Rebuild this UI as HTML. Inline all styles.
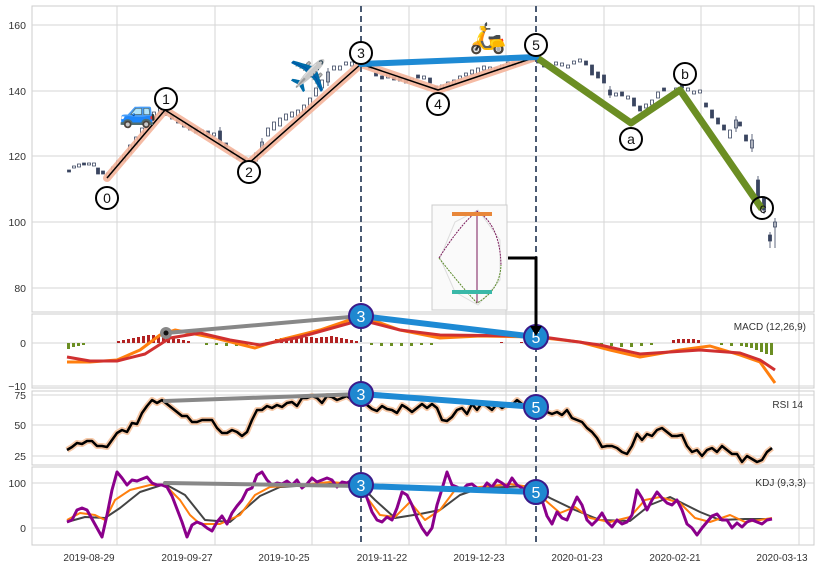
<!DOCTYPE html>
<html><head><meta charset="utf-8"><style>
html,body{margin:0;padding:0;background:#fff;width:819px;height:568px;overflow:hidden}
svg{display:block;font-family:"Liberation Sans",sans-serif}
</style></head><body>
<svg width="819" height="568" viewBox="0 0 819 568" xmlns="http://www.w3.org/2000/svg">
<defs>
<clipPath id="cm"><rect x="32" y="6" width="782" height="306"/></clipPath>
<clipPath id="cc"><rect x="32" y="314" width="782" height="74"/></clipPath>
<clipPath id="cr"><rect x="32" y="391" width="782" height="74"/></clipPath>
<clipPath id="ck"><rect x="32" y="467" width="782" height="78"/></clipPath>
</defs>
<g fill="#fff" stroke="#ccc" stroke-width="1">
<rect x="32" y="6" width="782" height="306"/>
<rect x="32" y="314" width="782" height="74"/>
<rect x="32" y="391" width="782" height="74"/>
<rect x="32" y="467" width="782" height="78"/>
</g>
<g stroke="#d6d6d6" stroke-width="1">
<line x1="32" x2="814" y1="25" y2="25"/><line x1="32" x2="814" y1="91" y2="91"/><line x1="32" x2="814" y1="156" y2="156"/><line x1="32" x2="814" y1="222" y2="222"/><line x1="32" x2="814" y1="288" y2="288"/>
<line x1="32" x2="814" y1="343" y2="343"/><line x1="32" x2="814" y1="386" y2="386"/>
<line x1="32" x2="814" y1="395" y2="395"/><line x1="32" x2="814" y1="425" y2="425"/><line x1="32" x2="814" y1="456" y2="456"/>
<line x1="32" x2="814" y1="483" y2="483"/><line x1="32" x2="814" y1="528" y2="528"/>
<path d="M117 6V545M215 6V545M312 6V545M409 6V545M506 6V545M604 6V545M701 6V545M799 6V545"/>
</g>
<g font-size="10.5" fill="#333" text-anchor="end">
<text x="26" y="29">160</text><text x="26" y="95">140</text><text x="26" y="160">120</text><text x="26" y="226">100</text><text x="26" y="292">80</text>
<text x="26" y="347">0</text><text x="26" y="390">−10</text>
<text x="26" y="399">75</text><text x="26" y="429">50</text><text x="26" y="460">25</text>
<text x="26" y="487">100</text><text x="26" y="532">0</text>
</g>
<g font-size="10" fill="#333" text-anchor="middle">
<text x="89" y="561">2019-08-29</text><text x="187" y="561">2019-09-27</text><text x="284" y="561">2019-10-25</text><text x="382" y="561">2019-11-22</text><text x="479" y="561">2019-12-23</text><text x="577" y="561">2020-01-23</text><text x="675" y="561">2020-02-21</text><text x="782" y="561">2020-03-13</text>
</g>
<g font-size="10" fill="#333" text-anchor="end">
<text x="806" y="330">MACD (12,26,9)</text><text x="803" y="408">RSI 14</text><text x="806" y="486">KDJ (9,3,3)</text>
</g>

<g clip-path="url(#cm)" stroke="#3a4560" stroke-width="0.8">
<path fill="#3a4560" d="M67.5 170h3v2h-3zM82.5 163h3v2h-3zM96.5 168h3v6h-3zM101.5 171h3v3h-3zM164.5 110h3v4h-3zM170.5 115h3v4h-3zM176.5 119h3v4h-3zM188.5 126h3v4h-3zM194.5 128h3v5h-3zM206.5 131h3v4h-3zM218.5 131h3v12h-3zM224.5 143h3v4h-3zM230.5 150h3v4h-3zM236.5 155h3v4h-3zM242.5 158h3v4h-3zM362.5 62h3v3h-3zM368.5 66h3v3h-3zM374.5 73h3v3h-3zM380.5 76h3v3h-3zM392.5 77h3v3h-3zM398.5 78h3v3h-3zM404.5 80h3v3h-3zM416.5 75h3v3h-3zM428.5 78h3v5h-3zM434.5 86h3v4h-3zM536.5 60h3v3h-3zM542.5 63h3v4h-3zM548.5 65h3v3h-3zM584.5 61h3v4h-3zM590.5 65h3v10h-3zM596.5 72h3v6h-3zM602.5 75h3v8h-3zM608.5 90h3v5h-3zM620.5 92h3v4h-3zM632.5 98h3v8h-3zM638.5 106h3v5h-3zM662.5 88h3v3h-3zM680.5 84h3v4h-3zM704.5 103h3v4h-3zM710.5 110h3v8h-3zM716.5 118h3v6h-3zM722.5 125h3v5h-3zM738.5 122h3v4h-3zM744.5 135h3v6h-3zM756.5 180h3v18h-3zM762.5 198h3v12h-3zM768.5 235h3v6h-3z"/>
<path fill="#fff" d="M72.5 166h3v2h-3zM77.5 164h3v3h-3zM87.5 163h3v2h-3zM92.5 163h3v3h-3zM106.5 173h3v4h-3zM111.5 167h3v3h-3zM116.5 161h3v4h-3zM122.5 155h3v6h-3zM128.5 145h3v8h-3zM134.5 137h3v8h-3zM140.5 128h3v8h-3zM146.5 118h3v6h-3zM152.5 112h3v6h-3zM158.5 108h3v5h-3zM182.5 122h3v5h-3zM200.5 130h3v3h-3zM212.5 133h3v3h-3zM248.5 160h3v3h-3zM254.5 153h3v8h-3zM260.5 142h3v10h-3zM266.5 128h3v8h-3zM272.5 122h3v8h-3zM278.5 118h3v8h-3zM284.5 114h3v6h-3zM290.5 112h3v5h-3zM296.5 110h3v6h-3zM302.5 105h3v7h-3zM308.5 98h3v10h-3zM314.5 88h3v8h-3zM320.5 80h3v8h-3zM326.5 72h3v10h-3zM332.5 66h3v4h-3zM338.5 66h3v4h-3zM344.5 62h3v3h-3zM350.5 62h3v4h-3zM356.5 60h3v4h-3zM386.5 75h3v3h-3zM410.5 78h3v2h-3zM422.5 76h3v3h-3zM440.5 85h3v3h-3zM446.5 82h3v3h-3zM452.5 80h3v4h-3zM458.5 76h3v3h-3zM464.5 73h3v3h-3zM470.5 70h3v4h-3zM476.5 68h3v6h-3zM482.5 66h3v4h-3zM488.5 67h3v3h-3zM494.5 68h3v3h-3zM500.5 65h3v3h-3zM506.5 62h3v3h-3zM512.5 63h3v3h-3zM518.5 60h3v3h-3zM524.5 58h3v3h-3zM530.5 58h3v3h-3zM554.5 62h3v3h-3zM560.5 63h3v3h-3zM566.5 65h3v3h-3zM572.5 61h3v3h-3zM578.5 59h3v3h-3zM614.5 93h3v3h-3zM626.5 96h3v3h-3zM644.5 104h3v4h-3zM650.5 100h3v5h-3zM656.5 92h3v6h-3zM668.5 95h3v3h-3zM674.5 88h3v3h-3zM686.5 88h3v3h-3zM692.5 91h3v3h-3zM698.5 90h3v3h-3zM728.5 130h3v8h-3zM734.5 120h3v8h-3zM750.5 140h3v8h-3zM773.5 222h3v5h-3z"/>
<path d="M166 106v10M220 127v18M262 138v16M328 68v18M610 86v12M758 176v26M764 196v18M770 232v16M775 218v30M752 134v18M736 116v16"/>
</g>
<g clip-path="url(#cm)" fill="none" stroke-linejoin="round">
<polyline points="107,178 165,110 249,163 361,64 438,90 536,57" stroke="#f4b49a" stroke-width="8" stroke-linecap="round" opacity="0.9"/>
<polyline points="107,178 165,110 249,163 361,64 438,90 536,57" stroke="#000" stroke-width="1.5"/>
<polyline points="536,57 631,123 680,90 762,209" stroke="#6b8e23" stroke-width="7"/>
</g>

<g clip-path="url(#cc)">
<path fill="#b22222" d="M117 341h3v2h-3zM122 340h3v3h-3zM127 339h3v4h-3zM132 338h3v5h-3zM137 337h3v6h-3zM142 336h3v7h-3zM147 335h3v8h-3zM152 335h3v8h-3zM157 336h3v7h-3zM162 336h3v7h-3zM167 337h3v6h-3zM172 338h3v5h-3zM177 339h3v4h-3zM182 340h3v3h-3zM187 341h3v2h-3zM275 339h3v4h-3zM280 338h3v5h-3zM285 337h3v6h-3zM290 337h3v6h-3zM295 337h3v6h-3zM300 337h3v6h-3zM305 337h3v6h-3zM310 337h3v6h-3zM315 338h3v5h-3zM320 337h3v6h-3zM325 337h3v6h-3zM330 336h3v7h-3zM335 337h3v6h-3zM340 338h3v5h-3zM345 339h3v4h-3zM350 340h3v3h-3zM355 341h3v2h-3zM500 342h3v1h-3zM520 342h3v1h-3zM672 340h3v3h-3zM677 339h3v4h-3zM682 339h3v4h-3zM687 339h3v4h-3zM692 339h3v4h-3zM697 340h3v3h-3z"/>
<path fill="#6b8e23" d="M67 343h3v6h-3zM72 343h3v4h-3zM77 343h3v3h-3zM82 343h3v2h-3zM205 343h3v2h-3zM215 343h3v2h-3zM225 343h3v3h-3zM235 343h3v3h-3zM245 343h3v2h-3zM370 343h3v2h-3zM380 343h3v3h-3zM390 343h3v3h-3zM400 343h3v3h-3zM410 343h3v3h-3zM420 343h3v2h-3zM430 343h3v2h-3zM600 343h3v2h-3zM610 343h3v3h-3zM620 343h3v4h-3zM630 343h3v4h-3zM640 343h3v3h-3zM650 343h3v2h-3zM720 343h3v2h-3zM730 343h3v3h-3zM740 343h3v3h-3zM745 343h3v4h-3zM750 343h3v5h-3zM755 343h3v7h-3zM760 343h3v9h-3zM765 343h3v11h-3zM770 343h3v12h-3z"/>
<g fill="none" stroke-width="3" stroke-linejoin="round">
<polyline stroke="#ff7f0e" points="67,362 90,362 117,360 140,350 160,335 175,330 215,338 255,348 280,340 320,330 361,316 400,330 440,338 480,336 536,337 580,342 610,350 640,357 680,350 710,346 740,355 760,362 775,383"/>
<polyline stroke="#d03030" points="67,357 90,361 117,361 145,354 170,338 200,333 230,340 260,345 300,337 361,320 400,330 440,335 536,336 600,345 640,354 700,350 740,353 760,360 775,370"/>
</g>
</g>

<g clip-path="url(#cr)" fill="none" stroke-linejoin="round">
<polyline stroke="#f7c9a8" stroke-width="6" points="67,450 72,447 77,443 82,444 87,441 92,441 97,446 102,446 107,447 112,440 117,433 122,430 127,432 132,423 137,424 142,413 147,406 152,400 157,403 162,400 167,404 172,408 177,412 182,416 187,416 192,422 197,422 202,420 207,420 212,420 217,428 222,433 227,433 232,430 237,432 242,436 247,432 252,420 257,410 262,410 267,406 272,408 277,405 282,407 287,403 292,402 297,406 302,398 307,398 312,396 317,398 322,403 327,396 332,397 337,400 342,398 347,396 352,400 357,400 362,398 367,405 372,409 377,411 382,406 387,409 392,410 397,413 402,405 407,408 412,412 417,408 422,404 427,408 432,404 437,408 442,420 447,421 452,417 457,410 462,408 467,414 472,404 477,410 482,403 487,406 492,410 497,404 502,408 507,405 512,405 517,400 522,404 527,408 532,404 537,406 542,410 547,412 552,414 557,412 562,415 567,410 572,418 577,420 582,422 587,428 592,432 597,438 602,447 607,446 612,446 617,448 622,452 627,454 632,446 637,434 642,440 647,434 652,436 657,430 662,428 667,432 672,436 677,436 682,435 687,446 692,452 697,450 702,456 707,450 712,448 717,452 722,446 727,450 732,454 737,454 742,462 747,456 752,459 757,462 762,460 767,452 772,448"/>
<polyline stroke="#000" stroke-width="2.5" points="67,450 72,447 77,443 82,444 87,441 92,441 97,446 102,446 107,447 112,440 117,433 122,430 127,432 132,423 137,424 142,413 147,406 152,400 157,403 162,400 167,404 172,408 177,412 182,416 187,416 192,422 197,422 202,420 207,420 212,420 217,428 222,433 227,433 232,430 237,432 242,436 247,432 252,420 257,410 262,410 267,406 272,408 277,405 282,407 287,403 292,402 297,406 302,398 307,398 312,396 317,398 322,403 327,396 332,397 337,400 342,398 347,396 352,400 357,400 362,398 367,405 372,409 377,411 382,406 387,409 392,410 397,413 402,405 407,408 412,412 417,408 422,404 427,408 432,404 437,408 442,420 447,421 452,417 457,410 462,408 467,414 472,404 477,410 482,403 487,406 492,410 497,404 502,408 507,405 512,405 517,400 522,404 527,408 532,404 537,406 542,410 547,412 552,414 557,412 562,415 567,410 572,418 577,420 582,422 587,428 592,432 597,438 602,447 607,446 612,446 617,448 622,452 627,454 632,446 637,434 642,440 647,434 652,436 657,430 662,428 667,432 672,436 677,436 682,435 687,446 692,452 697,450 702,456 707,450 712,448 717,452 722,446 727,450 732,454 737,454 742,462 747,456 752,459 757,462 762,460 767,452 772,448"/>
</g>

<g clip-path="url(#ck)" fill="none" stroke-linejoin="round">
<polyline stroke="#444" stroke-width="2" points="67,522 85,517 105,518 120,508 140,492 165,484 185,495 205,520 230,522 260,496 280,487 330,484 360,485 375,500 395,518 420,514 440,510 460,495 480,488 530,486 550,498 575,510 600,520 630,521 650,505 670,497 700,512 720,520 745,519 772,519"/>
<polyline stroke="#ff7f0e" stroke-width="2" points="67,520 80,513 95,515 105,520 115,500 130,490 150,485 165,485 180,500 190,515 200,524 220,524 240,515 255,495 270,487 300,485 330,482 355,484 365,495 380,515 395,517 410,502 425,520 440,510 455,490 480,487 510,484 530,487 545,500 560,513 575,507 590,518 610,522 630,517 645,500 660,497 680,503 695,518 710,522 730,515 745,522 760,520 772,518"/>
<polyline stroke="#8b008b" stroke-width="3" points="67,522 72,520 77,510 82,508 87,510 92,519 97,528 102,537 107,515 112,490 117,472 122,478 127,485 132,480 137,481 142,479 147,477 152,483 157,485 162,485 167,487 172,496 177,509 182,522 187,537 192,525 197,522 202,524 207,528 212,531 217,522 222,516 227,524 232,513 237,506 242,500 247,490 252,488 257,475 262,472 267,480 272,485 277,483 282,484 287,481 292,485 297,480 302,488 307,484 312,478 317,482 322,480 327,478 332,480 337,487 342,482 347,483 352,480 357,482 362,487 367,498 372,512 377,520 382,522 387,517 392,520 397,508 402,492 407,495 412,505 417,518 422,528 427,535 432,528 437,505 442,489 447,472 452,485 457,487 462,490 467,485 472,484 477,488 482,490 487,483 492,487 497,480 502,483 507,487 512,478 517,485 522,488 527,492 532,490 537,491 542,500 547,516 552,524 557,512 562,518 567,520 572,508 577,497 582,505 587,520 592,525 597,520 602,513 607,522 612,527 617,520 622,524 627,522 632,515 637,490 642,498 647,510 652,500 657,492 662,498 667,503 672,505 677,500 682,510 687,524 692,528 697,535 702,528 707,522 712,516 717,514 722,520 727,520 732,528 737,523 742,527 747,522 752,520 757,522 762,524 767,520 772,519"/>
</g>

<g stroke="#4a5a72" stroke-width="2" stroke-dasharray="6,4">
<line x1="361" x2="361" y1="6" y2="545"/><line x1="536" x2="536" y1="6" y2="545"/>
</g>
<g stroke-linecap="round" fill="none">
<polyline points="166,333 361,316" stroke="#888" stroke-width="4"/>
<polyline points="361,316 536,337" stroke="#1e8ad4" stroke-width="6"/>
<polyline points="165,401 361,394" stroke="#888" stroke-width="4"/>
<polyline points="361,394 536,407" stroke="#1e8ad4" stroke-width="6"/>
<polyline points="165,483 361,486" stroke="#888" stroke-width="4"/>
<polyline points="361,486 536,492" stroke="#1e8ad4" stroke-width="6"/>
<polyline points="361,64 536,57" stroke="#1e8ad4" stroke-width="6"/>
</g>
<circle cx="166" cy="333" r="6" fill="#888"/><circle cx="166" cy="333" r="2.5" fill="#111"/>
<g fill="#fff" stroke="#000" stroke-width="2">
<circle cx="107" cy="198" r="11"/><circle cx="166" cy="99" r="11"/><circle cx="249" cy="172" r="11"/><circle cx="361" cy="53" r="11"/><circle cx="438" cy="104" r="11"/><circle cx="536" cy="45" r="11"/><circle cx="631" cy="139" r="11"/><circle cx="685" cy="74" r="11"/><circle cx="762" cy="208" r="11" fill="none"/>
</g>
<g font-size="14" text-anchor="middle" fill="#111">
<text x="107" y="203">0</text><text x="166" y="104">1</text><text x="249" y="177">2</text><text x="361" y="58">3</text><text x="438" y="109">4</text><text x="536" y="50">5</text><text x="631" y="144">a</text><text x="685" y="79">b</text><text x="763" y="213">c</text>
</g>
<g fill="#1e88d0" stroke="#3a1a8a" stroke-width="2">
<circle cx="361" cy="316" r="12"/><circle cx="536" cy="337" r="12"/><circle cx="361" cy="394" r="12"/><circle cx="536" cy="407" r="12"/><circle cx="361" cy="485" r="12"/><circle cx="536" cy="492" r="12"/>
</g>
<g font-size="16" text-anchor="middle" fill="#fff">
<text x="361" y="322">3</text><text x="536" y="343">5</text><text x="361" y="400">3</text><text x="536" y="413">5</text><text x="361" y="491">3</text><text x="536" y="498">5</text>
</g>
<g font-size="30" text-anchor="middle">
<text x="138" y="122">🚙</text><text x="308" y="86">✈️</text><text x="488" y="48">🛵</text>
</g>
<rect x="432" y="205" width="75" height="105" fill="#fafafa" stroke="#ccc"/>
<g fill="none" stroke-width="1">
<path d="M440 258 L455 222 L478 210 L500 240 L500 280 L478 305 L455 292 Z" stroke="#ddd"/>
<path d="M439 258 Q460 225 477 211 Q500 225 501 265" stroke="#7a1a5a" stroke-dasharray="2,1"/>
<path d="M439 258 Q460 285 477 303 Q500 290 501 265" stroke="#5a8a2a" stroke-dasharray="2,1"/>
<line x1="477" y1="211" x2="477" y2="303" stroke="#7a1a5a"/>
<rect x="452" y="212" width="40" height="4" fill="#e8873a" stroke="none"/>
<rect x="452" y="290" width="40" height="4" fill="#3ab8a8" stroke="none"/>
</g>
<polyline points="508,258 536,258 536,328" fill="none" stroke="#000" stroke-width="3"/>
<polygon points="530,326 542,326 536,336" fill="#000"/>
</svg>
</body></html>
